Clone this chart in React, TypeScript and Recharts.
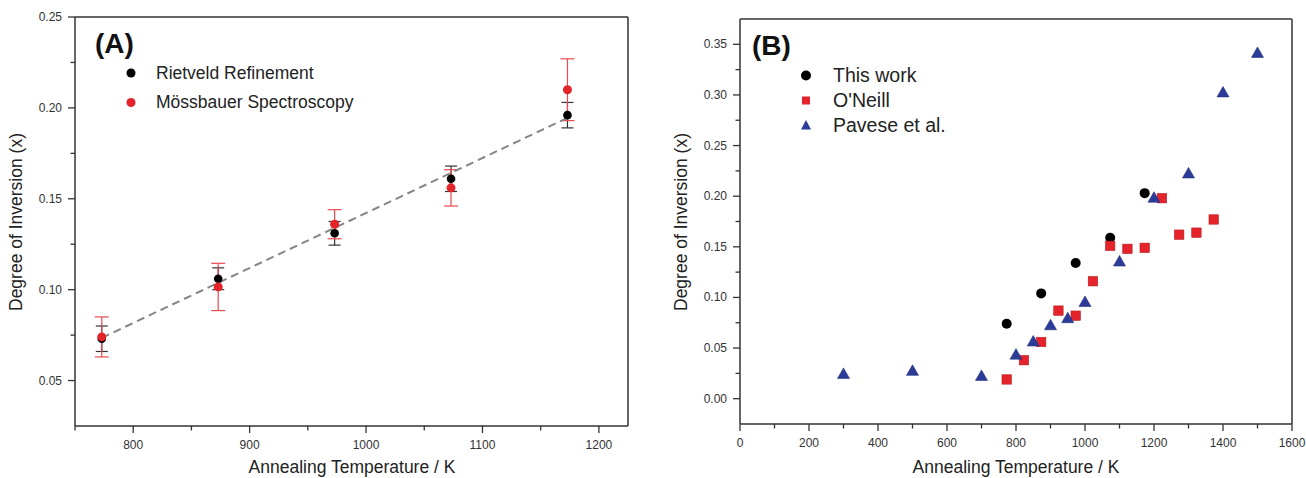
import React from 'react';
import { ScatterChart, Scatter, XAxis, YAxis, ErrorBar, ReferenceLine } from 'recharts';

// ---- panel (A): degree of inversion vs annealing temperature ----
const tempA = [773, 873, 973, 1073, 1173];
const rietveld = [0.073, 0.106, 0.131, 0.161, 0.196];
const rietveldErr = [0.007, 0.006, 0.0065, 0.007, 0.007];
const mossbauer = [0.074, 0.1015, 0.136, 0.156, 0.21];
const mossbauerErr = [0.011, 0.013, 0.008, 0.01, 0.017];
const fitT = [773, 1173];
const fitX = [0.0735, 0.1945];

// ---- panel (B): comparison with literature ----
const thisWorkT = [773, 873, 973, 1073, 1173];
const thisWorkX = [0.074, 0.104, 0.134, 0.159, 0.203];
const oneillT = [773, 823, 873, 923, 973, 1023, 1073, 1123, 1173, 1223, 1273, 1323, 1373];
const oneillX = [0.019, 0.038, 0.056, 0.087, 0.082, 0.116, 0.151, 0.148, 0.149, 0.198, 0.162, 0.164, 0.177];
const paveseT = [300, 500, 700, 800, 850, 900, 950, 1000, 1100, 1200, 1300, 1400, 1500];
const paveseX = [0.024, 0.027, 0.022, 0.043, 0.056, 0.072, 0.079, 0.095, 0.135, 0.198, 0.222, 0.302, 0.341];

// ticks (labelled + minor)
const aLabelX = [800, 900, 1000, 1100, 1200];
const aMinorX = [750, 850, 950, 1050, 1150];
const aLabelY = [0.05, 0.1, 0.15, 0.2, 0.25];
const aMinorY = [0.075, 0.125, 0.175, 0.225];
const bLabelX = [0, 200, 400, 600, 800, 1000, 1200, 1400, 1600];
const bMinorX = [100, 300, 500, 700, 900, 1100, 1300, 1500];
const bLabelY = [0, 0.05, 0.1, 0.15, 0.2, 0.25, 0.3, 0.35];
const bMinorY = [0.025, 0.075, 0.125, 0.175, 0.225, 0.275, 0.325];

const AXIS = '#333';
const RED = '#e4232b';
const BLUE = '#2b3b97';
const FONT = '"Liberation Sans", Arial, sans-serif';

const zip = (xs: number[], ys: number[], errs?: number[]) =>
  xs.map((x, i) => ({ x, y: ys[i], err: errs ? errs[i] : 0 }));

const XTick = (p: any) => {
  const { x, y, payload, labels, fmt } = p;
  const major = labels.includes(payload.value);
  return (
    <g>
      <line x1={x} x2={x} y1={y} y2={y + (major ? 7 : 4.5)} stroke={AXIS} strokeWidth={1.3} />
      {major && (
        <text x={x} y={y + 23} textAnchor="middle" fontSize={12} fill="#333" fontFamily={FONT}>
          {fmt(payload.value)}
        </text>
      )}
    </g>
  );
};

const YTick = (p: any) => {
  const { x, y, payload, labels } = p;
  const major = labels.includes(payload.value);
  return (
    <g>
      <line x1={x - (major ? 7 : 4.5)} x2={x} y1={y} y2={y} stroke={AXIS} strokeWidth={1.3} />
      {major && (
        <text x={x - 13} y={y + 4} textAnchor="end" fontSize={12} fill="#333" fontFamily={FONT}>
          {payload.value.toFixed(2)}
        </text>
      )}
    </g>
  );
};

const dot = (r: number, fill: string) => (p: any) => <circle cx={p.cx} cy={p.cy} r={r} fill={fill} />;
const square = (p: any) => (
  <rect x={p.cx - 4.7} y={p.cy - 4.7} width={9.4} height={9.4} fill={RED} stroke="#b81c22" strokeWidth={0.6} />
);
const triangle = (p: any) => (
  <polygon
    points={`${p.cx},${p.cy - 6.5} ${p.cx - 6},${p.cy + 4} ${p.cx + 6},${p.cy + 4}`}
    fill={BLUE}
    stroke="#24307e"
    strokeWidth={0.6}
  />
);
const nothing = () => <g />;

function PanelA() {
  return (
    <ScatterChart width={650} height={478} margin={{ top: 17, right: 22, bottom: 0, left: 0 }}>
      <XAxis
        type="number"
        dataKey="x"
        domain={[750, 1225]}
        allowDataOverflow
        ticks={[...aMinorX, ...aLabelX]}
        interval={0}
        height={52}
        tickSize={0}
        tickMargin={0}
        stroke={AXIS}
        strokeWidth={1.5}
        tick={(p: any) => <XTick {...p} labels={aLabelX} fmt={(v: number) => String(v)} />}
      />
      <YAxis
        type="number"
        dataKey="y"
        domain={[0.025, 0.25]}
        allowDataOverflow
        ticks={[...aMinorY, ...aLabelY]}
        interval={0}
        width={75}
        tickSize={0}
        tickMargin={0}
        stroke={AXIS}
        strokeWidth={1.5}
        tick={(p: any) => <YTick {...p} labels={aLabelY} />}
      />
      <ReferenceLine y={0.25} stroke={AXIS} strokeWidth={1.5} />
      <ReferenceLine x={1225} stroke={AXIS} strokeWidth={1.5} />
      <Scatter
        data={zip(fitT, fitX)}
        line={{ stroke: '#858585', strokeWidth: 2, strokeDasharray: '8 5' }}
        shape={nothing}
        isAnimationActive={false}
      />
      <Scatter data={zip(tempA, rietveld, rietveldErr)} shape={dot(4.3, '#000')} isAnimationActive={false}>
        <ErrorBar dataKey="err" direction="y" width={6} stroke="#333" strokeWidth={1.2} isAnimationActive={false} />
      </Scatter>
      <Scatter data={zip(tempA, mossbauer, mossbauerErr)} shape={dot(4.5, RED)} isAnimationActive={false}>
        <ErrorBar dataKey="err" direction="y" width={7} stroke="#e84a4f" strokeWidth={1.2} isAnimationActive={false} />
      </Scatter>
    </ScatterChart>
  );
}

function PanelB() {
  return (
    <ScatterChart width={656} height={478} margin={{ top: 19, right: 14, bottom: 0, left: 0 }}>
      <XAxis
        type="number"
        dataKey="x"
        domain={[0, 1600]}
        allowDataOverflow
        ticks={[...bMinorX, ...bLabelX]}
        interval={0}
        height={54}
        tickSize={0}
        tickMargin={0}
        stroke={AXIS}
        strokeWidth={1.5}
        tick={(p: any) => <XTick {...p} labels={bLabelX} fmt={(v: number) => String(v)} />}
      />
      <YAxis
        type="number"
        dataKey="y"
        domain={[-0.025, 0.375]}
        allowDataOverflow
        ticks={[...bMinorY, ...bLabelY]}
        interval={0}
        width={90}
        tickSize={0}
        tickMargin={0}
        stroke={AXIS}
        strokeWidth={1.5}
        tick={(p: any) => <YTick {...p} labels={bLabelY} />}
      />
      <ReferenceLine y={0.375} stroke={AXIS} strokeWidth={1.5} />
      <ReferenceLine x={1600} stroke={AXIS} strokeWidth={1.5} />
      <Scatter data={zip(thisWorkT, thisWorkX)} shape={dot(5, '#000')} isAnimationActive={false} />
      <Scatter data={zip(oneillT, oneillX)} shape={square} isAnimationActive={false} />
      <Scatter data={zip(paveseT, paveseX)} shape={triangle} isAnimationActive={false} />
    </ScatterChart>
  );
}

function Overlay() {
  const title = { fontFamily: FONT, fontSize: 17.5, fill: '#222' };
  return (
    <svg width={1306} height={478} style={{ position: 'absolute', left: 0, top: 0, pointerEvents: 'none' }}>
      {/* panel A */}
      <text x={95} y={53} fontFamily={FONT} fontSize={28} fontWeight="bold" fill="#111">(A)</text>
      <circle cx={131} cy={73} r={4.5} fill="#000" />
      <text x={156} y={79} fontFamily={FONT} fontSize={17.5} fill="#222">Rietveld Refinement</text>
      <circle cx={131} cy={102.5} r={4.5} fill={RED} />
      <text x={156} y={108} fontFamily={FONT} fontSize={17.5} fill="#222">Mössbauer Spectroscopy</text>
      <text x={352} y={473} textAnchor="middle" {...title}>Annealing Temperature / K</text>
      <text x={22} y={222} textAnchor="middle" transform="rotate(-90 22 222)" {...title}>Degree of Inversion (x)</text>

      {/* panel B */}
      <text x={752} y={55} fontFamily={FONT} fontSize={28} fontWeight="bold" fill="#111">(B)</text>
      <circle cx={806} cy={75.5} r={5} fill="#000" />
      <text x={833} y={82} fontFamily={FONT} fontSize={19.5} fill="#222">This work</text>
      <rect x={802} y={96.5} width={8} height={8} fill={RED} />
      <text x={833} y={107} fontFamily={FONT} fontSize={19.5} fill="#222">O'Neill</text>
      <polygon points="806,120 801,129.5 811,129.5" fill={BLUE} />
      <text x={833} y={132} fontFamily={FONT} fontSize={19.5} fill="#222">Pavese et al.</text>
      <text x={1016} y={473} textAnchor="middle" {...title}>Annealing Temperature / K</text>
      <text x={687} y={222} textAnchor="middle" transform="rotate(-90 687 222)" {...title}>Degree of Inversion (x)</text>
    </svg>
  );
}

export default function App() {
  return (
    <div style={{ position: 'absolute', left: 0, top: 0, width: 1306, height: 478, background: '#fff', fontFamily: FONT }}>
      <div style={{ position: 'absolute', left: 0, top: 0 }}>
        <PanelA />
      </div>
      <div style={{ position: 'absolute', left: 650, top: 0 }}>
        <PanelB />
      </div>
      <Overlay />
    </div>
  );
}
